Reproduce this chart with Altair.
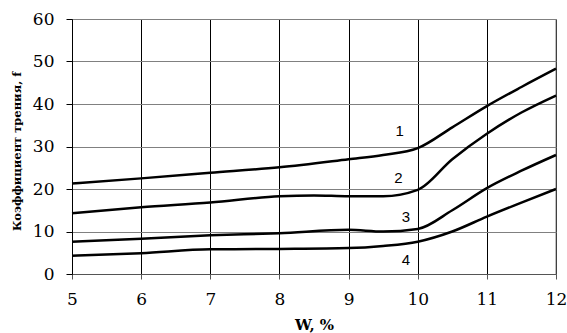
import altair as alt
import pandas as pd

w1 = [5, 6, 7, 8, 9, 9.5, 10, 10.5, 11, 11.5, 12]
f1 = [21.3, 22.5, 23.8, 25.1, 27.0, 28.0, 29.6, 34.5, 39.5, 44.0, 48.3]
w2 = [5, 6, 7, 8, 8.5, 9, 9.5, 10, 10.5, 11, 11.5, 12]
f2 = [14.3, 15.7, 16.8, 18.3, 18.5, 18.3, 18.3, 19.8, 27.0, 33.0, 38.0, 42.0]
w3 = [5, 6, 7, 8, 9, 9.5, 10, 10.5, 11, 11.5, 12]
f3 = [7.6, 8.3, 9.1, 9.6, 10.4, 10.0, 10.6, 15.0, 20.2, 24.3, 28.0]
w4 = [5, 6, 7, 8, 9, 9.5, 10, 10.5, 11, 11.5, 12]
f4 = [4.3, 4.9, 5.8, 5.9, 6.1, 6.6, 7.6, 10.0, 13.5, 16.8, 20.0]

label_text = ["1", "2", "3", "4"]
label_w = [9.74, 9.72, 9.83, 9.83]
label_f = [33.6, 22.6, 13.4, 3.3]

rows = []
for name, ws, fs in [("1", w1, f1), ("2", w2, f2), ("3", w3, f3), ("4", w4, f4)]:
    for w, f in zip(ws, fs):
        rows.append({"series": name, "W": w, "f": f})
df = pd.DataFrame(rows)
labels = pd.DataFrame({"t": label_text, "W": label_w, "f": label_f})

SERIF = "DejaVu Serif"

xscale = alt.Scale(domain=[5, 12], nice=False)
yscale = alt.Scale(domain=[0, 60], nice=False)

xaxis = alt.Axis(title="W, %", values=list(range(5, 13)), format="d", grid=True,
                 gridColor="#000000", gridWidth=1, domainColor="#555555",
                 tickColor="#555555", tickSize=5, labelFont=SERIF, labelFontSize=17,
                 labelColor="#000000", labelPadding=12, titleFont=SERIF, titleFontSize=15,
                 titleFontWeight="bold", titleColor="#000000", titlePadding=10,
                 labelFlush=False)
yaxis = alt.Axis(title="Коэффициент трения, f", values=list(range(0, 61, 10)), format="d",
                 grid=True, gridColor="#808080", gridWidth=1, domainColor="#000000",
                 tickColor="#000000", tickSize=6, labelFont=SERIF, labelFontSize=17,
                 labelColor="#000000", labelPadding=12, titleFont=SERIF,
                 titleFontSize=11.5, titleFontWeight="bold", titleColor="#000000",
                 titlePadding=10, titleY=132)

lines = alt.Chart(df).mark_line(color="#000000", strokeWidth=2.5, interpolate="monotone").encode(
    x=alt.X("W:Q", scale=xscale, axis=xaxis),
    y=alt.Y("f:Q", scale=yscale, axis=yaxis),
    detail="series:N",
)

text = alt.Chart(labels).mark_text(font="Liberation Sans", fontSize=15,
                                   color="#000000").encode(
    x=alt.X("W:Q", scale=xscale),
    y=alt.Y("f:Q", scale=yscale),
    text="t:N",
)

right = alt.Chart(pd.DataFrame({"W": [12]})).mark_rule(color="#808080", strokeWidth=1).encode(
    x=alt.X("W:Q", scale=xscale)
)

chart = (right + lines + text).properties(
    width=484, height=255,
    autosize=alt.AutoSizeParams(type="none"),
    padding={"left": 72, "top": 19, "right": 11, "bottom": 59},
    background="#ffffff",
).configure_view(stroke=None)

chart.save("out.html", embed_options={"renderer": "svg", "actions": False})
